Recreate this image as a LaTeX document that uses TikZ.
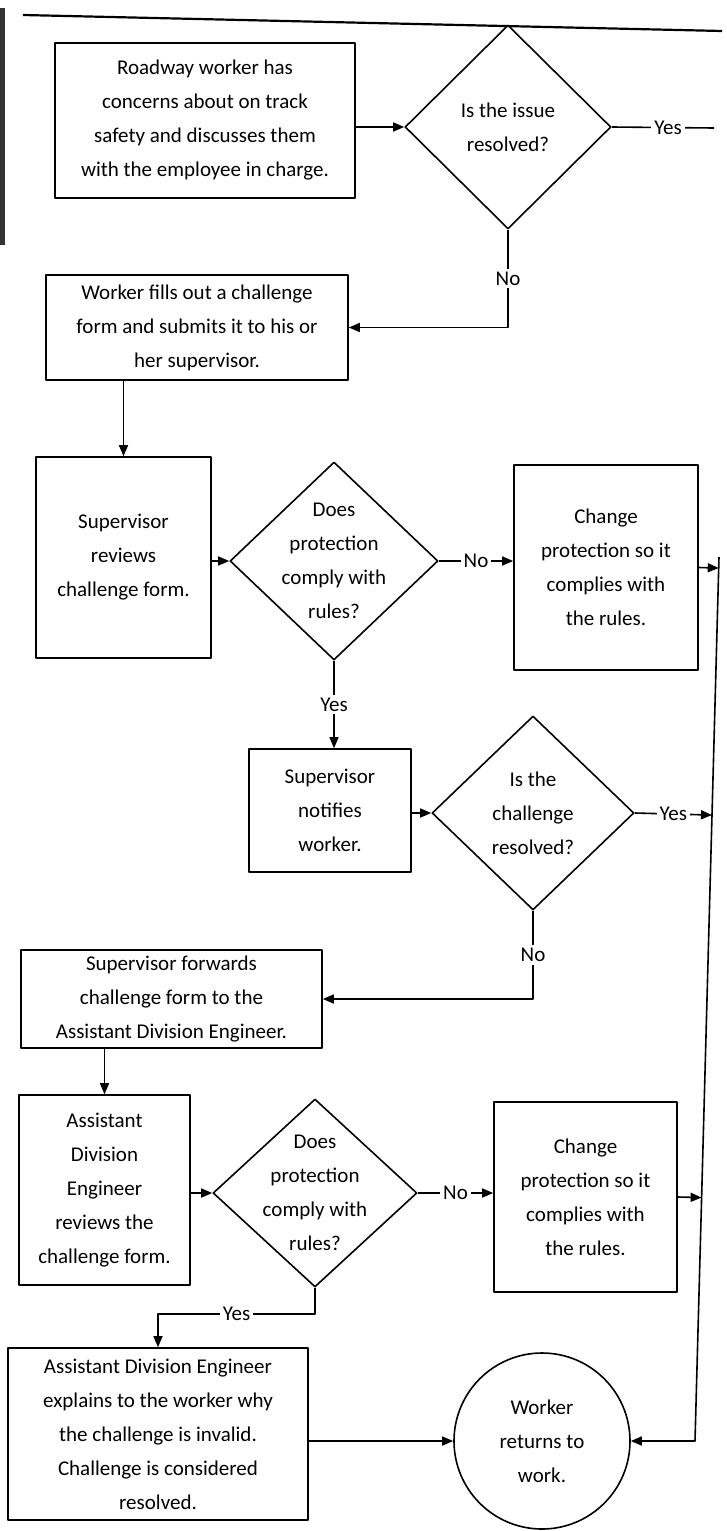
\documentclass[tikz,border=0pt]{standalone}
\usepackage{fontspec}
\newfontfamily\flowfont{Carlito}
\usetikzlibrary{shapes.geometric,arrows.meta,calc}
\tikzstyle{every node}=[font=\flowfont\fontsize{21pt}{34pt}\selectfont]
\tikzstyle{every path}=[line width=1.6pt,line join=round]
\tikzstyle{stepbox}=[draw,rectangle,align=center,inner sep=0pt]
\tikzstyle{decision}=[draw,diamond,align=center,inner sep=-12pt,minimum width=206pt,minimum height=198pt]
\tikzstyle{terminal}=[draw,circle,align=center,inner sep=0pt,minimum size=176pt]
\tikzstyle{flow}=[-{Triangle[length=11pt,width=9pt]}]
\tikzstyle{answer}=[fill=white,inner sep=3pt]

\begin{document}
\begin{tikzpicture}[x=1pt,y=-1pt]
    \useasboundingbox (0,0) rectangle (727,1531);

    % scan edge and top rule
    \draw[line width=5pt,black!80] (2.5,8) -- (2.5,245);
    \draw[line width=2.2pt] (23,15) -- (722,31);

    % talk with the employee in charge
    \node[stepbox,minimum width=300pt,minimum height=155pt] (issue) at (205,120.5)
        {Roadway worker has\\concerns about on track\\safety and discusses them\\with the employee in charge.};
    \node[decision,minimum height=204pt] (resolved1) at (508,127) {Is the issue\\resolved?};
    \coordinate (yesout) at (714,128);

    % challenge form
    \node[stepbox,minimum width=302pt,minimum height=105pt] (form) at (197,327.5)
        {Worker fills out a challenge\\form and submits it to his or\\her supervisor.};

    % supervisor review
    \node[stepbox,minimum width=175pt,minimum height=201pt] (review1) at (123.5,557.5)
        {Supervisor\\reviews\\challenge form.};
    \node[decision,minimum width=208pt] (comply1) at (334,561) {Does\\protection\\comply with\\rules?};
    \node[stepbox,minimum width=184pt,minimum height=205pt] (change1) at (606,567.5)
        {Change\\protection so it\\complies with\\the rules.};
    \node[stepbox,minimum width=162pt,minimum height=123pt] (notify) at (330,810.5)
        {Supervisor\\notifies\\worker.};
    \node[decision,minimum width=202pt,minimum height=194pt] (resolved2) at (533,813)
        {Is the\\challenge\\resolved?};

    % assistant division engineer review
    \node[stepbox,minimum width=301pt,minimum height=98pt] (forward) at (171.5,999)
        {Supervisor forwards\\challenge form to the\\Assistant Division Engineer.};
    \node[stepbox,minimum width=171pt,minimum height=190pt] (review2) at (104.5,1190)
        {Assistant\\Division\\Engineer\\reviews the\\challenge form.};
    \node[decision,minimum width=204pt,minimum height=188pt] (comply2) at (315,1193)
        {Does\\protection\\comply with\\rules?};
    \node[stepbox,minimum width=183pt,minimum height=190pt] (change2) at (585.5,1197)
        {Change\\protection so it\\complies with\\the rules.};
    \node[stepbox,minimum width=300pt,minimum height=172pt] (explain) at (158,1434)
        {Assistant Division Engineer\\explains to the worker why\\the challenge is invalid.\\Challenge is considered\\resolved.};
    \node[terminal] (returns) at (542,1441) {Worker\\returns to\\work.};

    % return line on the right
    \coordinate (rtop) at (719,557);
    \coordinate (rbot) at (695,1441);

    % connectors
    \draw[flow] (resolved1.west -| issue.east) -- (resolved1.west);
    \draw (resolved1.east) -- node[answer,pos=0.55]{Yes} (yesout);
    \draw[flow] (resolved1.south) -- node[answer]{No} (resolved1.south |- form.east) -- (form.east);
    \draw[flow] (review1.north |- form.south) -- (review1.north);
    \draw[flow] (comply1.west -| review1.east) -- (comply1.west);
    \draw[flow] (comply1.east) -- node[answer]{No} (comply1.east -| change1.west);
    \draw[flow] (change1.east) -- ($(rtop)!(change1.east)!(rbot)$);
    \draw[flow] (comply1.south) -- node[answer]{Yes} (comply1.south |- notify.north);
    \draw[flow] (resolved2.west -| notify.east) -- (resolved2.west);
    \draw[flow] (resolved2.east) -- node[answer]{Yes} ($(rtop)!(resolved2.east)!(rbot)$);
    \draw[flow] (resolved2.south) -- node[answer]{No} (resolved2.south |- forward.east) -- (forward.east);
    \draw[flow] (review2.north |- forward.south) -- (review2.north);
    \draw[flow] (comply2.west -| review2.east) -- (comply2.west);
    \draw[flow] (comply2.east) -- node[answer]{No} (comply2.east -| change2.west);
    \draw[flow] (change2.east) -- ($(rtop)!(change2.east)!(rbot)$);
    \draw[flow] (comply2.south) -- ++(0,26) -| node[answer,pos=0.25]{Yes} (explain.north);
    \draw[flow] (returns.west -| explain.east) -- (returns.west);
    \draw[flow] (rtop) -- (rbot) -- (returns.east);
\end{tikzpicture}
\end{document}
